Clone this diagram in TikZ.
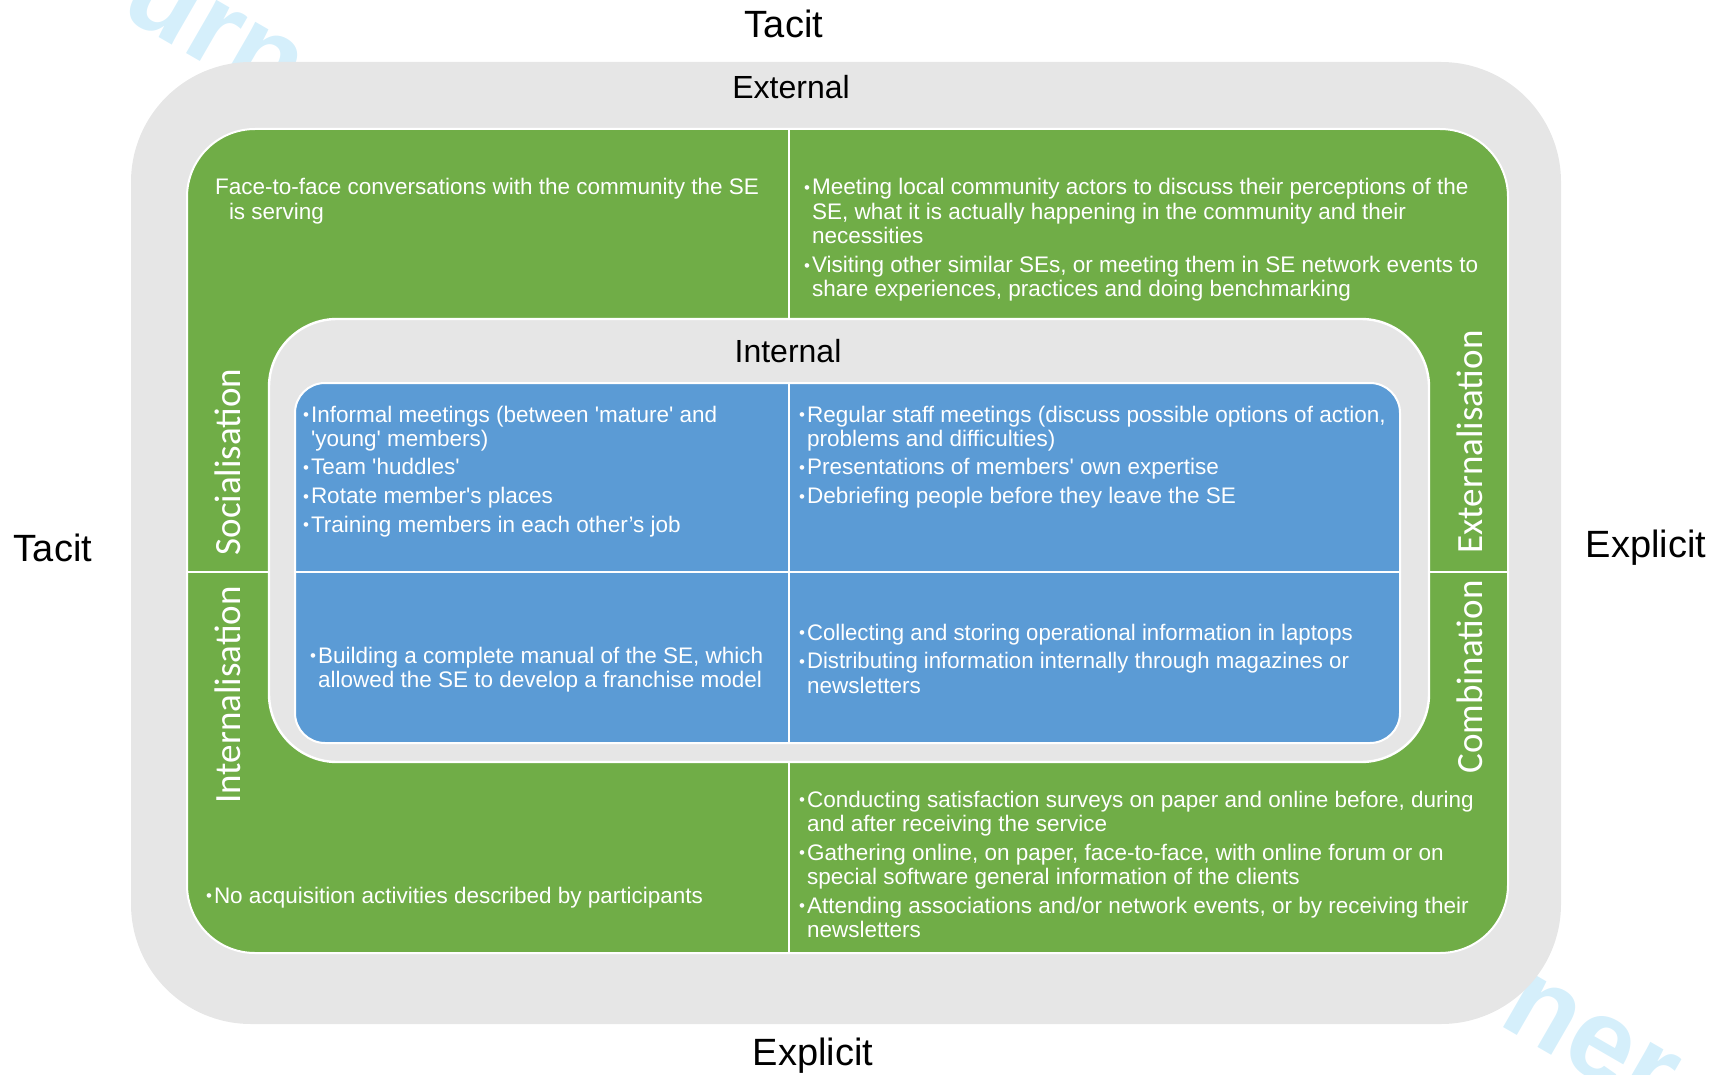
\documentclass[tikz,border=0pt]{standalone}
\usepackage{fontspec}
\setmainfont{Liberation Sans}
\newfontfamily\carlito{Carlito}
\usepackage{graphicx}
\definecolor{kgrey}{HTML}{E6E6E6}
\definecolor{kgreen}{HTML}{70AD47}
\definecolor{kblue}{HTML}{5B9BD5}
\definecolor{wmark}{HTML}{D5EFFB}
\newcommand\sq{\XeTeXglyph\XeTeXcharglyph"0027\relax}
\newcommand\bul{\makebox[4pt][l]{\raisebox{0.12ex}{\scalebox{0.75}{•}}}}
\newcommand\ind{\hspace*{4pt}}
\newcommand\blk[1]{\parbox[t]{640pt}{\raggedright #1}}
\begin{document}
\begin{tikzpicture}[x=0.5pt,y=-0.5pt,
  every node/.style={inner sep=0pt,outer sep=0pt},
  body/.style={anchor=base west,text=white,font=\fontsize{11.25pt}{12.25pt}\selectfont},
  axis/.style={anchor=base,font=\fontsize{19pt}{22pt}\selectfont},
  level/.style={anchor=base,font=\fontsize{16pt}{19pt}\selectfont},
  mode/.style={anchor=base,rotate=90,text=white,font=\carlito\fontsize{18.5pt}{22pt}\selectfont},
  wm/.style={text=wmark,font=\bfseries\fontsize{58pt}{64pt}\selectfont,rotate=-30},
  divider/.style={draw=white,line width=1pt},
  panel/.style={draw=white,line width=1pt}]
\useasboundingbox (0,0) rectangle (1719,1075);
% watermark fragments (behind everything)
\node[wm] (wmTop) at (214,34) {urn};
\node[wm] (wmBot) at (1590,1042) {ner};
% outer grey frame
\fill[kgrey,rounded corners=60pt] (131,62) rectangle (1561,1024);
% green external panel
\path[panel,fill=kgreen,rounded corners=34pt] (187,129) rectangle (1508,953);
\coordinate (gTop) at (789,129);
\coordinate (gBot) at (789,953);
\coordinate (gLeft) at (187,572);
\coordinate (gRight) at (1508,572);
\draw[divider] (gTop) -- (gBot);
\draw[divider] (gLeft) -- (gRight);
% inner grey
\path[panel,fill=kgrey,line width=1.2pt,rounded corners=34pt] (269,319) rectangle (1429,762);
% blue internal panel
\path[panel,fill=kblue,rounded corners=15pt] (295,383) rectangle (1400,743);
\coordinate (bTop) at (789,383);
\coordinate (bBot) at (789,743);
\coordinate (bLeft) at (295,572);
\coordinate (bRight) at (1400,572);
\draw[divider] (bTop) -- (bBot);
\draw[divider] (bLeft) -- (bRight);

% axis labels
\node[axis] (tacitTop) at (784,38) {Tacit};
\node[axis] (tacitLeft) at (53,561) {Tacit};
\node[axis] (explicitRight) at (1646,557) {Explicit};
\node[axis] (explicitBot) at (813,1065) {Explicit};
\node[level] (external) at (791,99) {External};
\node[level] (internal) at (788,363) {Internal};

% SECI modes
\node[mode] (soc) at (240,462) {Socialisation};
\node[mode] (intl) at (240,695) {Internalisation};
\node[mode] (extl) at (1482,442) {Externalisation};
\node[mode] (comb) at (1482,677) {Combination};

% green external texts
\node[body] (gTL) at (215,195) {\blk{Face-to-face conversations with the community the SE\\
\hspace*{7pt}is serving}};
\node[body] (gTR) at (804,195) {\blk{\bul Meeting local community actors to discuss their perceptions of the\\
\ind SE, what it is actually happening in the community and their\\
\ind necessities\\[2pt]
\bul Visiting other similar SEs, or meeting them in SE network events to\\
\ind share experiences, practices and doing benchmarking}};
\node[body] (gBL) at (206,903) {\blk{\bul No acquisition activities described by participants}};
\node[body] (gBR) at (799,807) {\blk{\bul Conducting satisfaction surveys on paper and online before, during\\
\ind and after receiving the service\\[2pt]
\bul Gathering online, on paper, face-to-face, with online forum or on\\
\ind special software general information of the clients\\[2pt]
\bul Attending associations and/or network events, or by receiving their\\
\ind newsletters}};

% blue internal texts
\node[body] (bTL) at (303,422) {\blk{\bul Informal meetings (between \sq mature\sq{} and\\
\ind\sq young\sq{} members)\\[2pt]
\bul Team \sq huddles\sq\\[2pt]
\bul Rotate member\sq s places\\[2pt]
\bul Training members in each other’s job}};
\node[body] (bTR) at (799,422) {\blk{\bul Regular staff meetings (discuss possible options of action,\\
\ind problems and difficulties)\\[2pt]
\bul Presentations of members\sq{} own expertise\\[2pt]
\bul Debriefing people before they leave the SE}};
\node[body] (bBL) at (310,663) {\blk{\bul Building a complete manual of the SE, which\\
\ind allowed the SE to develop a franchise model}};
\node[body] (bBR) at (799,640) {\blk{\bul \scalebox{0.985}[1]{Collecting and storing operational information in laptops}\\[2pt]
\bul \scalebox{0.985}[1]{Distributing information internally through magazines or}\\
\ind newsletters}};
\end{tikzpicture}
\end{document}
